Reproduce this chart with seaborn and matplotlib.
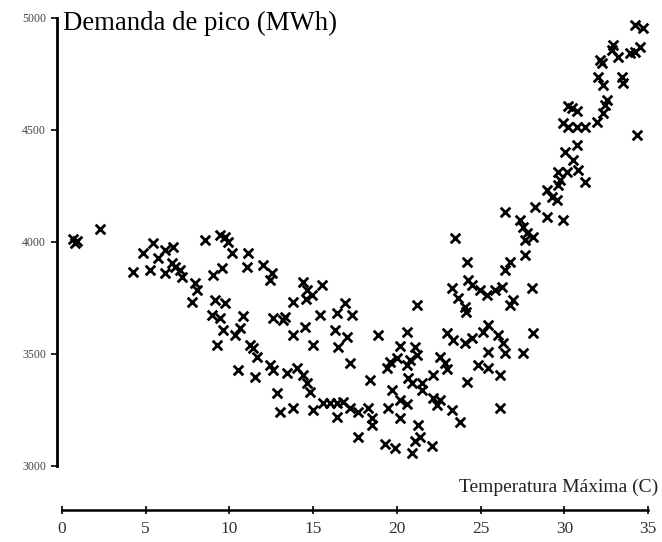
import matplotlib
matplotlib.use("Agg")
import matplotlib.pyplot as plt
import seaborn as sns
import pandas as pd

# Temperatura máxima (C)
temperatura = [
    0.66, 0.90, 0.78, 2.27, 4.24, 4.84, 5.43, 5.25, 5.73, 6.15, 6.63, 6.15, 6.57,
    6.75, 7.04, 7.16, 7.94, 8.06, 7.76, 8.54, 9.43, 9.73, 9.91, 10.15, 9.55, 9.01,
    11.10, 11.04, 12.00, 12.54, 12.42, 9.13, 9.73, 8.96, 9.43, 10.81, 9.61, 10.63,
    10.33, 9.25, 11.22, 11.40, 11.64, 12.42, 10.51, 11.52, 12.60, 13.43, 14.03,
    14.39, 14.63, 14.81, 12.84, 13.01, 13.79, 14.99, 15.58, 16.00, 16.42, 14.39,
    14.63, 14.93, 15.52, 14.57, 13.79, 12.60, 13.19, 13.79, 14.51, 15.40, 14.99,
    16.42, 16.30, 16.48, 13.31,
    16.90, 17.31, 17.01, 17.19, 16.42, 16.78, 17.19, 17.67, 18.27, 18.51, 18.51,
    17.67, 19.28, 19.88, 20.90, 21.25, 21.37, 21.07, 22.09, 21.19, 18.87, 18.39,
    19.40, 19.58, 20.00, 19.70, 20.18, 20.60, 19.46, 20.18, 20.60, 20.18, 21.07,
    21.19, 20.60, 20.78, 20.66, 20.90, 21.49, 21.49, 22.15, 22.57, 22.87, 22.99,
    22.15, 22.39, 22.57, 23.28, 23.76, 22.99, 23.34, 24.06, 24.48, 25.13, 25.43,
    26.03, 26.33, 25.43, 26.45, 24.84, 25.43, 26.15, 24.18, 26.15, 27.52, 28.12,
    23.28, 23.64, 24.06, 24.12, 24.24, 24.48, 24.18, 24.96, 25.37, 25.85, 26.27,
    26.93, 26.75, 26.45, 26.75, 27.64, 28.06, 23.46, 26.45, 27.34, 27.52, 27.76,
    27.64, 28.12, 28.24, 28.96, 29.55, 29.91, 28.96, 29.25, 29.61, 29.73, 29.61,
    30.15, 30.81, 31.22, 30.75, 30.03, 30.51, 29.91, 30.21, 30.75, 31.22, 31.94,
    32.30, 32.42, 32.54, 30.45, 30.75, 30.21, 32.12, 32.24, 32.00, 32.30, 33.43,
    33.49, 32.90, 32.84, 33.19, 33.91, 34.21, 34.51, 34.33, 34.21, 34.69,
]

# Demanda de pico (MWh)
demanda = [
    4013, 4004, 3995, 4058, 3866, 3951, 3995, 3875, 3929, 3964, 3978, 3862, 3906,
    3888, 3875, 3844, 3817, 3786, 3732, 4009, 4031, 4022, 4000, 3951, 3884, 3853,
    3951, 3888, 3897, 3862, 3830, 3741, 3728, 3674, 3661, 3670, 3607, 3616,
    3585, 3540, 3540, 3527, 3487, 3451, 3429, 3397, 3429, 3415, 3437,
    3406, 3371, 3330, 3326, 3241, 3259, 3250, 3281, 3281, 3219, 3821,
    3786, 3763, 3808, 3745, 3732, 3661, 3652, 3585, 3620, 3674, 3540,
    3683, 3607, 3531, 3665,
    3728, 3674, 3576, 3460, 3281, 3286, 3259, 3241, 3259, 3214, 3183,
    3129, 3098, 3080, 3058, 3183, 3129, 3112, 3089, 3719, 3585, 3384,
    3437, 3464, 3482, 3339, 3295, 3277, 3259, 3214, 3598, 3536, 3531,
    3495, 3451, 3473, 3393, 3371, 3371, 3339, 3406, 3487, 3460, 3433,
    3304, 3272, 3295, 3250, 3196, 3594, 3562, 3549, 3571, 3598, 3629,
    3585, 3549, 3509, 3504, 3451, 3437, 3406, 3375, 3259, 3504, 3594,
    3795, 3750, 3710, 3687, 3830, 3808, 3911, 3786, 3763, 3786, 3799,
    3741, 3719, 3875, 3911, 3942, 3795, 4018, 4134, 4098, 4067, 4040,
    4009, 4022, 4156, 4112, 4187, 4098, 4232, 4201, 4312, 4277, 4254,
    4312, 4321, 4268, 4433, 4402, 4366, 4531, 4513, 4513, 4513, 4536,
    4576, 4612, 4634, 4598, 4585, 4607, 4812, 4799, 4737, 4701, 4737,
    4710, 4879, 4857, 4826, 4844, 4848, 4870, 4478, 4969, 4955,
]

x_ticks = [0, 5, 10, 15, 20, 25, 30, 35]
y_ticks = [3000, 3500, 4000, 4500, 5000]
titulo_y = "Demanda de pico (MWh)"
titulo_x = "Temperatura Máxima (C)"

sns.set_style("white")
plt.rcParams['font.family'] = ['Liberation Serif', 'DejaVu Serif']

fig = plt.figure(figsize=(6.62, 5.42), dpi=100)
ax = fig.add_axes([0.06835, 0.0535, 0.9235, 0.9196])

df = pd.DataFrame({"temperatura": temperatura, "demanda": demanda})
sns.scatterplot(data=df, x="temperatura", y="demanda", marker="x",
                color="black", s=48, linewidth=2.0, ax=ax, legend=False,
                clip_on=False)

ax.set_xlim(-1, 35.5)
ax.set_ylim(2790, 5015)
ax.set_xlabel("")
ax.set_ylabel("")

for side in ("top", "right"):
    ax.spines[side].set_visible(False)
ax.spines["left"].set_position(("data", -0.3))
ax.spines["left"].set_bounds(3000, 5000)
ax.spines["left"].set_linewidth(2.0)
ax.spines["left"].set_color("black")
ax.spines["bottom"].set_position(("data", 2804))
ax.spines["bottom"].set_bounds(0, 35)
ax.spines["bottom"].set_linewidth(1.8)
ax.spines["bottom"].set_color("black")

ax.set_xticks(x_ticks)
ax.set_yticks(y_ticks)
ax.tick_params(axis="x", direction="inout", length=6, width=1.2, color="black",
               labelsize=12.5, labelcolor="#333333", pad=5, bottom=True)
ax.tick_params(axis="y", direction="out", length=4, width=1.2, color="black",
               labelsize=8.5, labelcolor="#444444", pad=4, left=True)

fig.text(63 / 662, 1 - 30 / 542, titulo_y, fontsize=19.3, ha="left",
         va="baseline", color="black")
fig.text(658 / 662, 1 - 492 / 542, titulo_x, fontsize=14, ha="right",
         va="baseline", color="#222222")

fig.savefig("out.png", dpi=100)
